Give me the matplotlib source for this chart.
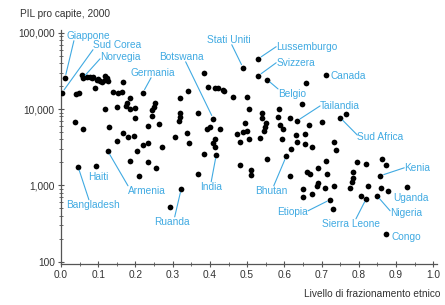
import numpy as np
import matplotlib
matplotlib.use("Agg")
import matplotlib.pyplot as plt
from matplotlib.ticker import FuncFormatter, LogLocator, MultipleLocator

plt.rcParams['font.family'] = ['Liberation Sans', 'DejaVu Sans']

# -------------------
# Data
# -------------------

# ethnic fractionalization (x) and GDP per capita 2000 (y)
frac = [
    0.011, 0.003, 0.040, 0.048, 0.056, 0.059, 0.070, 0.078, 0.083, 0.086,
    0.097, 0.099, 0.105, 0.110, 0.118, 0.118, 0.124, 0.126, 0.091, 0.167,
    0.140, 0.153, 0.164, 0.220, 0.118, 0.151, 0.177, 0.185, 0.175, 0.199,
    0.185, 0.199, 0.038, 0.059, 0.129, 0.167, 0.180, 0.196, 0.151, 0.126,
    0.204, 0.220, 0.234, 0.046, 0.094, 0.185, 0.210, 0.234, 0.255,
    0.384, 0.395, 0.414, 0.422, 0.438, 0.462, 0.341, 0.320, 0.253, 0.250,
    0.245, 0.245, 0.320, 0.320, 0.317, 0.368, 0.409, 0.401, 0.392, 0.427,
    0.234, 0.263, 0.339, 0.306, 0.414, 0.409, 0.414, 0.473, 0.481, 0.344,
    0.272, 0.384, 0.417, 0.368, 0.323, 0.293, 0.481,
    0.489, 0.530, 0.530, 0.554, 0.659, 0.712, 0.435, 0.500, 0.505, 0.540,
    0.540, 0.551, 0.548, 0.546, 0.586, 0.583, 0.648, 0.616, 0.634, 0.667,
    0.702, 0.750, 0.766, 0.495, 0.500, 0.489, 0.535, 0.589, 0.597, 0.594,
    0.632, 0.656, 0.634, 0.656, 0.675, 0.618, 0.734, 0.739, 0.505,
    0.511, 0.511, 0.554, 0.605, 0.616, 0.651, 0.651, 0.661, 0.669, 0.675,
    0.691, 0.691, 0.688, 0.712, 0.715, 0.710, 0.723, 0.734, 0.731, 0.796,
    0.820, 0.785, 0.785, 0.782, 0.777, 0.806, 0.820, 0.825, 0.863, 0.874,
    0.858, 0.860, 0.879, 0.849, 0.930, 0.874,
]

gdp = [
    25700, 16400, 15900, 16400, 28200, 25700, 26500, 26500, 25700, 26500,
    24200, 24900, 23500, 22800, 27300, 24200, 25700, 23500, 19000, 22800,
    16900, 16400, 16900, 16400, 10100, 10700, 12100, 14100, 11000, 10400,
    10100, 7700, 6800, 5400, 5900, 4900, 4300, 4500, 3800, 2800,
    2800, 3400, 3600, 1750, 1800, 2100, 1340, 2000, 1700,
    29900, 19600, 19000, 19000, 17400, 14500, 17400, 14100, 12100, 10700,
    9800, 8200, 8900, 7900, 7000, 8900, 7500, 5900, 5400, 5400,
    6000, 6400, 4900, 4300, 4000, 3600, 3200, 4700, 3700, 3600,
    3200, 2600, 2500, 1420, 900, 520, 1860,
    34800, 45600, 27300, 24200, 22100, 28200, 17900, 14500, 10100, 8900,
    7700, 6600, 5900, 5200, 10100, 7900, 11700, 7700, 7000, 6200,
    6800, 7700, 8700, 6600, 5200, 5000, 4200, 6200, 5500, 4000,
    4600, 4700, 3700, 3500, 3200, 3000, 3700, 2900, 4100,
    1600, 1380, 2200, 2400, 1340, 900, 710, 1510, 1420, 780,
    1700, 1080, 990, 2100, 1420, 930, 650, 990, 490, 2000,
    1900, 1510, 1260, 1110, 930, 730, 670, 990, 2200, 1860,
    1340, 930, 850, 730, 960, 230,
]

# labelled countries: name, point, label position
names = ["Giappone", "Sud Corea", "Norvegia", "Germania", "Botswana",
         "Stati Uniti", "Lussemburgo", "Svizzera", "Belgio", "Canada",
         "Tailandia", "Sud Africa", "Bangladesh", "Haiti", "Armenia",
         "Ruanda", "India", "Bhutan", "Etiopia", "Sierra Leone",
         "Kenia", "Uganda", "Nigeria", "Congo"]
name_x = [0.011, 0.003, 0.059, 0.220, 0.409, 0.489, 0.530, 0.530, 0.554, 0.712,
          0.634, 0.750, 0.046, 0.094, 0.126, 0.323, 0.417, 0.605, 0.723, 0.820,
          0.858, 0.930, 0.849, 0.874]
name_y = [25700, 16400, 25700, 16400, 7500, 34800, 45600, 27300, 24200, 28200,
          7000, 7700, 1750, 1800, 2800, 900, 2500, 2400, 650, 670,
          1340, 960, 730, 230]
label_x = [0.016, 0.086, 0.105, 0.188, 0.263, 0.392, 0.578, 0.578, 0.583, 0.723,
           0.696, 0.796, 0.013, 0.073, 0.180, 0.250, 0.374, 0.522, 0.581, 0.702,
           0.922, 0.892, 0.884, 0.887]
label_y = [91400, 69700, 48400, 29900, 48400, 81000, 65600, 40400, 15800, 27300,
           11000, 4300, 557, 1300, 850, 333, 960, 850, 451, 314,
           1700, 687, 438, 212]
# where the leader line leaves the label (None = no line)
relpos = [(0.16, 0), (0, 0), (0, 0.3), (0.45, 0), (0.6, 0),
          (0.57, 0), (0, 0.5), (0, 0.5), (0, 1), None,
          (0, 0.5), (0, 0.7), (0.43, 1), None, (0, 1),
          (0.58, 1), (0.5, 1), (0.57, 1), (1, 0.6), (0.58, 1),
          (0, 0.5), None, (0, 0.7), None]

blue = "#40aae2"

# -------------------
# Plot
# -------------------

fig = plt.figure(figsize=(4.45, 3.05), dpi=100)
ax = fig.add_axes([0.137, 0.134, 0.845, 0.768])

ax.scatter(frac, gdp, s=17, color="black", zorder=3, linewidths=0)

for i in range(len(names)):
    if relpos[i] is None:
        ax.text(label_x[i], label_y[i], names[i], color=blue, fontsize=7.3,
                ha="left", va="center")
    else:
        ax.annotate(
            names[i],
            xy=(name_x[i], name_y[i]),
            xytext=(label_x[i], label_y[i]),
            color=blue, fontsize=7.3, ha="left", va="center",
            arrowprops=dict(arrowstyle="-", color=blue, lw=0.8,
                            relpos=relpos[i], patchA=None,
                            shrinkA=0, shrinkB=2.5),
        )

ax.set_yscale("log")
ax.set_xlim(0, 1.01)
ax.set_ylim(93, 109000)

ax.xaxis.set_major_locator(MultipleLocator(0.1))
ax.xaxis.set_minor_locator(MultipleLocator(0.05))
ax.xaxis.set_major_formatter(FuncFormatter(lambda v, p: "%.1f" % v))
ax.yaxis.set_major_locator(LogLocator(base=10, numticks=10))
ax.yaxis.set_minor_locator(LogLocator(base=10, subs=np.arange(2, 10), numticks=10))
ax.yaxis.set_major_formatter(FuncFormatter(lambda v, p: "{:,}".format(int(round(v)))))

for s in ["top", "right"]:
    ax.spines[s].set_visible(False)
for s in ["left", "bottom"]:
    ax.spines[s].set_color("#555555")
    ax.spines[s].set_linewidth(0.9)

ax.tick_params(which="major", direction="inout", length=5, width=0.8,
               colors="#555555", labelsize=7.3, labelcolor="#333333", pad=2)
ax.tick_params(which="minor", direction="inout", length=3, width=0.6,
               colors="#555555")

fig.text(20 / 445, 1 - 14 / 305, "PIL pro capite, 2000", fontsize=7.3,
         color="#333333", ha="left", va="center")
fig.text(440 / 445, 1 - 294 / 305, "Livello di frazionamento etnico",
         fontsize=7.3, color="#333333", ha="right", va="center")

fig.savefig("out.png", dpi=100)
